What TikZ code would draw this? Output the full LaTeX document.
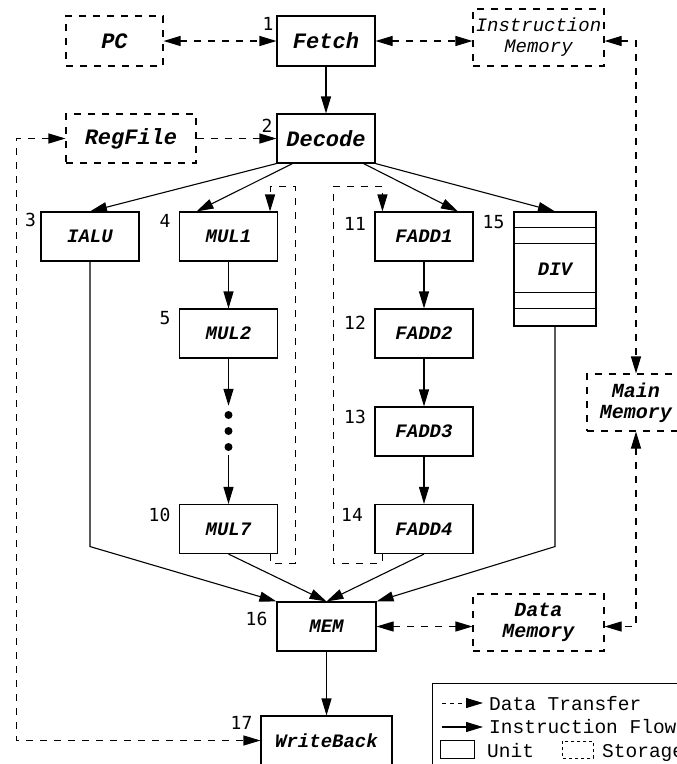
\documentclass[tikz,border=0pt]{standalone}
\usepackage{fontspec}
\newfontfamily\courfont{Liberation Mono}
\newfontfamily\numfont{DejaVu Sans Mono}
\usetikzlibrary{calc,arrows.meta}

\tikzset{
  >={Triangle[length=17pt,width=10pt]},
  unit/.style={draw, line width=1.1pt, minimum width=98pt, minimum height=49pt, inner sep=1pt,
    font=\courfont\bfseries\itshape\fontsize{19}{21}\selectfont},
  big/.style={font=\courfont\bfseries\itshape\fontsize{22}{24}\selectfont},
  store/.style={unit, dash pattern=on 7pt off 7pt},
  data/.style={line width=1.1pt, dash pattern=on 7pt off 7pt},
  flow/.style={line width=1.1pt},
  num/.style={font=\numfont\fontsize{18}{18}\selectfont, inner sep=0pt},
  dot/.style={circle, fill, inner sep=0pt, minimum size=8pt},
  legend/.style={font=\courfont\fontsize{19.5}{20}\selectfont, inner sep=0pt, anchor=base west},
}

\begin{document}
\begin{tikzpicture}[x=1pt,y=-1pt]
        \useasboundingbox (0,0) rectangle (677,764);
        % storage and units
        \node (pc) at (114.5,41) [store, big, minimum width=97pt, minimum height=50pt] {PC};
        \node (fetch) at (326,41) [unit, big, minimum height=50pt] {Fetch};
        \node (imem) at (538.5,37.5) [store, minimum width=131pt, minimum height=57pt, align=center,
          font=\courfont\itshape\fontsize{19}{21}\selectfont] {Instruction\\Memory};
        \node (regfile) at (131,138.5) [store, big, minimum width=130pt] {RegFile};
        \node (decode) at (326,138.5) [unit, big] {Decode};
        \node (ialu) at (90,236.5) [unit] {IALU};
        \node (mul1) at (228.5,236.5) [unit] {MUL1};
        \node (mul2) at (228.5,333.5) [unit] {MUL2};
        \node (d1) at (228.5,415) [dot] {};
        \node (d2) at (228.5,431) [dot] {};
        \node (d3) at (228.5,447) [dot] {};
        \node (mul7) at (228.5,529) [unit] {MUL7};
        \node (fadd1) at (424,236.5) [unit] {FADD1};
        \node (fadd2) at (424,333.5) [unit] {FADD2};
        \node (fadd3) at (424,431.5) [unit] {FADD3};
        \node (fadd4) at (424,529) [unit] {FADD4};
        \node (div) at (555,269) [unit, minimum width=82pt, minimum height=114pt] {DIV};
        \node (mainmem) at (636,402.5) [store, minimum height=57pt, align=center,
          font=\courfont\bfseries\itshape\fontsize{20}{21}\selectfont] {Main\\Memory};
        \node (datamem) at (538.5,622.5) [store, minimum width=131pt, minimum height=57pt, align=center,
          font=\courfont\bfseries\itshape\fontsize{20}{21}\selectfont] {Data\\Memory};
        \node (mem) at (326.5,626.5) [unit, minimum width=99pt] {MEM};
        \node (wb) at (326.5,740.5) [unit, minimum width=131pt] {WriteBack};
        \foreach \d in {16,32,81,97}
          \draw [line width=0.5pt] ($(div.north west)+(0,\d)$) -- ($(div.north east)+(0,\d)$);
        % stage numbers
        \node (n1) at (268,24) [num] {1};
        \node (n2) at (267,126) [num] {2};
        \node (n3) at (30.5,220) [num] {3};
        \node (n4) at (165,221) [num] {4};
        \node (n5) at (165,318) [num] {5};
        \node (n10) at (159.5,515) [num] {10};
        \node (n11) at (355,224) [num] {11};
        \node (n12) at (355,323) [num] {12};
        \node (n13) at (355,417) [num] {13};
        \node (n14) at (352,515) [num] {14};
        \node (n15) at (493.5,222) [num] {15};
        \node (n16) at (256.5,619) [num] {16};
        \node (n17) at (241.5,722.5) [num] {17};
        % data transfer
        \draw [data,<->] (pc) -- (fetch);
        \draw [data,<->] (fetch) -- (fetch -| imem.west);
        \draw [data,->] (regfile) -- (decode);
        \draw [data,<->] (regfile.west) -- ($(regfile.west)+(-49,0)$) |- (wb.west);
        \draw [data,<->] (imem.east |- fetch) -| (mainmem.north);
        \draw [data,<->] (mainmem.south) |- (mem -| datamem.east);
        \draw [data,<->] (mem) -- (mem -| datamem.west);
        \draw [data,->] ($(mul7.south east)+(-8,0)$) -- ++(0,9) -| ($(mul1.north east)+(17,-25)$) -| ($(mul1.north east)+(-8,0)$);
        \draw [data,->] ($(fadd4.south west)+(8,0)$) -- ++(0,9) -| ($(fadd1.north west)+(-41,-25)$) -| ($(fadd1.north west)+(8,0)$);
        % instruction flow
        \draw [flow,->] (fetch) -- (decode);
        \draw [flow,->] (decode.south west) -- (ialu.north);
        \draw [flow,->] ($(decode.south west)+(16,0)$) -- ($(mul1.north)+(-32,0)$);
        \draw [flow,->] ($(decode.south east)+(-12,0)$) -- ($(fadd1.north)+(34,0)$);
        \draw [flow,->] (decode.south east) -- (div.north);
        \draw [flow,->] (mul1) -- (mul2);
        \draw [flow,->,shorten >=5pt] (mul2) -- (d1);
        \draw [flow,->,shorten <=4pt] (d3) -- (mul7);
        \foreach \a/\b in {fadd1/fadd2,fadd2/fadd3,fadd3/fadd4}
          \draw [flow,->] (\a) -- (\b);
        \draw [flow,->] (ialu.south) -- ($(ialu.south)+(0,285)$) -- (mem.north west);
        \draw [flow,->] (mul7.south) -- (mem.north);
        \draw [flow,->] (fadd4.south) -- (mem.north);
        \draw [flow,->] (div.south) -- ($(div.south)+(0,220)$) -- (mem.north east);
        \draw [flow,->] (mem) -- (wb);
        % legend
        \draw [line width=0.6pt] (432,683) rectangle (690,775);
        \coordinate (lg1) at (442,703);
        \coordinate (lg2) at (442,727);
        \draw [line width=1pt, dash pattern=on 4pt off 4pt, ->] (lg1) -- ++(41,0);
        \draw [flow,->] (lg2) -- ++(41,0);
        \node (lgdata) at (489,710) [legend] {Data Transfer};
        \node (lgflow) at (489,733) [legend] {Instruction Flow};
        \draw [line width=1pt] (440,740) rectangle (474,758);
        \node (lgunit) at (487,757) [legend] {Unit};
        \draw [line width=0.8pt, dash pattern=on 3pt off 3pt] (562,741) rectangle (593,758);
        \node (lgstore) at (602,757) [legend] {Storage};
\end{tikzpicture}
\end{document}
